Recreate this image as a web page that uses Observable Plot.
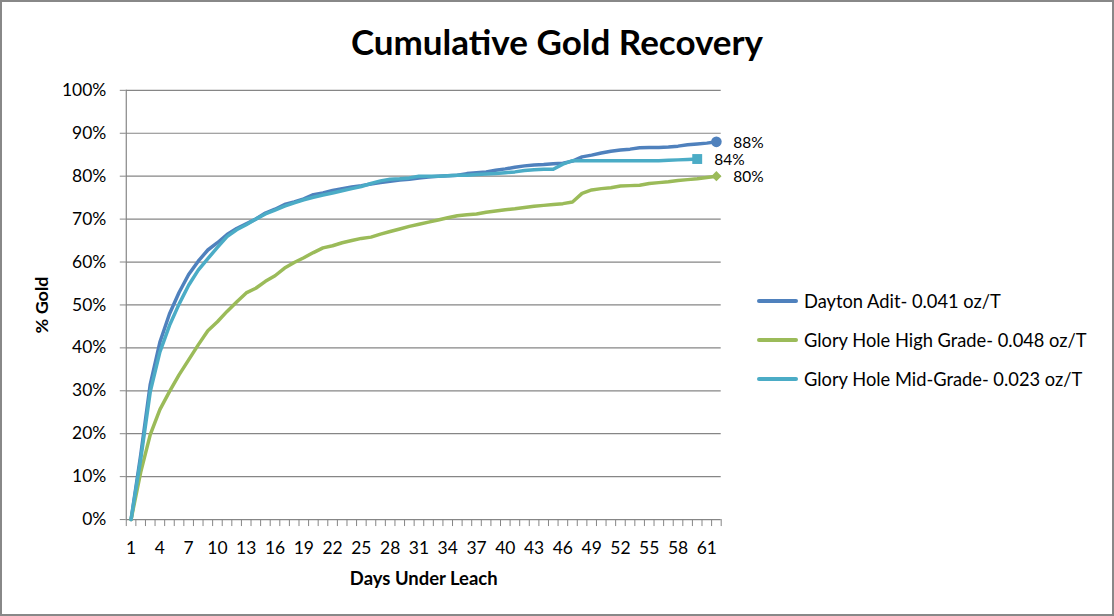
<!DOCTYPE html>
<html>
<head>
<meta charset="utf-8">
<script src="https://cdn.jsdelivr.net/npm/d3@7"></script>
<script src="https://cdn.jsdelivr.net/npm/@observablehq/plot@0.6"></script>
<style>
  html, body { margin: 0; padding: 0; background: #fff; }
  #chart {
    position: relative; width: 1114px; height: 616px; box-sizing: border-box;
    border: 2px solid #888; overflow: hidden; font-family: Lato, "Open Sans", sans-serif;
  }
  #title {
    position: absolute; left: 0; width: 1110px; top: 18px; text-align: center;
    font-size: 35px; font-weight: bold; color: #000;
  }
  #plot { position: absolute; left: -2px; top: -2px; }
  #legend { position: absolute; left: 755px; top: 279px; font-size: 18.3px; color: #000; }
  .item { display: flex; align-items: center; height: 39px; }
  .sw { width: 41px; height: 4px; margin-right: 6px; border-radius: 2px; }
</style>
</head>
<body>
<div id="chart">
  <div id="plot"></div>
  <div id="title">Cumulative Gold Recovery</div>
  <div id="legend"></div>
</div>
<script>
// ---- data (percent gold recovered, by day under leach) ----
const seriesNames = [
  "Dayton Adit- 0.041 oz/T",
  "Glory Hole High Grade- 0.048 oz/T",
  "Glory Hole Mid-Grade- 0.023 oz/T"
];
const seriesColors = ["#4F81BD", "#9BBB59", "#4BACC6"];
const seriesSymbols = ["circle", "diamond2", "square"];

const daytonAdit = [
  0, 15, 31.5, 41.3, 47.9, 52.9, 57.1, 60.2, 62.8, 64.5,
  66.4, 67.8, 68.9, 70.0, 71.4, 72.3, 73.4, 74.0, 74.7, 75.7,
  76.1, 76.7, 77.1, 77.5, 77.8, 78.2, 78.5, 78.8, 79.1, 79.3,
  79.6, 79.8, 80.0, 80.1, 80.2, 80.6, 80.8, 81.0, 81.4, 81.7,
  82.1, 82.4, 82.6, 82.7, 82.9, 83.0, 83.5, 84.5, 84.9, 85.4,
  85.8, 86.1, 86.3, 86.6, 86.7, 86.7, 86.8, 87.0, 87.3, 87.5,
  87.7, 88.0
];
const highGrade = [
  0, 11, 19.8, 25.6, 29.8, 33.7, 37.2, 40.7, 44.0, 46.1,
  48.5, 50.7, 52.8, 53.9, 55.5, 56.8, 58.6, 59.9, 61.0, 62.2,
  63.3, 63.8, 64.5, 65.0, 65.5, 65.8, 66.5, 67.1, 67.7, 68.3,
  68.8, 69.3, 69.8, 70.3, 70.8, 71.0, 71.2, 71.6, 71.9, 72.2,
  72.4, 72.7, 73.0, 73.2, 73.4, 73.6, 74.0, 76.0, 76.8, 77.1,
  77.3, 77.7, 77.8, 77.9, 78.3, 78.5, 78.7, 79.0, 79.2, 79.4,
  79.7, 80.0
];
const midGrade = [
  0, 14, 29.8, 39.0, 45.2, 50.2, 54.6, 58.1, 60.8, 63.4,
  65.9, 67.5, 68.7, 70.0, 71.2, 72.1, 73.0, 73.8, 74.5, 75.1,
  75.6, 76.1, 76.6, 77.1, 77.6, 78.3, 78.9, 79.3, 79.4, 79.6,
  80.0, 80.0, 80.0, 80.1, 80.2, 80.2, 80.4, 80.5, 80.6, 80.8,
  81.0, 81.3, 81.5, 81.6, 81.6, 82.8, 83.6, 83.6, 83.6, 83.6,
  83.6, 83.6, 83.6, 83.6, 83.6, 83.6, 83.7, 83.8, 83.9, 84.0
];
const xTickLabels = [1, 4, 7, 10, 13, 16, 19, 22, 25, 28, 31, 34, 37, 40, 43, 46, 49, 52, 55, 58, 61];
const yTicks = [0, 0.1, 0.2, 0.3, 0.4, 0.5, 0.6, 0.7, 0.8, 0.9, 1.0];
const xLabel = "Days Under Leach";
const yLabel = "% Gold";

// ---- build table ----
const allSeries = [daytonAdit, highGrade, midGrade];
const rows = [];
allSeries.forEach((vals, i) => vals.forEach((v, j) => rows.push({series: seriesNames[i], day: j + 1, value: v / 100})));
const lastPoints = allSeries.map((vals, i) => ({
  series: seriesNames[i], day: vals.length, value: vals[vals.length - 1] / 100,
  symbol: seriesSymbols[i], color: seriesColors[i]
}));
const nDays = d3.max(allSeries, s => s.length);
const boundaries = d3.range(0.5, nDays + 1, 1);

const grid = "#868686";
const chart = Plot.plot({
  width: 1114, height: 616,
  marginLeft: 126, marginRight: 392, marginTop: 90, marginBottom: 96,
  style: {fontFamily: "Lato, 'Open Sans', sans-serif", background: "transparent", color: "#000"},
  x: {domain: [0.5, nDays + 0.5]},
  y: {domain: [0, 1]},
  color: {domain: seriesNames, range: seriesColors},
  symbol: {domain: ["circle", "diamond2", "square"], range: ["circle", "diamond2", "square"]},
  marks: [
    Plot.ruleY(yTicks, {stroke: grid, strokeWidth: 1.2}),
    Plot.ruleX([0.5], {stroke: grid, strokeWidth: 1.2}),
    Plot.axisY(yTicks, {tickSize: 6, tickPadding: 14, stroke: grid, tickFormat: d => Math.round(d * 100) + "%", fontSize: 17.5, label: null}),
    Plot.axisX(boundaries, {tickSize: 7, stroke: grid, tickFormat: () => "", label: null}),
    Plot.axisX(xTickLabels, {tickSize: 0, tickPadding: 22, fontSize: 17.5, label: null}),
    Plot.line(rows, {x: "day", y: "value", z: "series", stroke: "series", strokeWidth: 3.5, strokeLinejoin: "round", strokeLinecap: "round"}),
    Plot.dot(lastPoints.filter(d => d.symbol === "circle"), {x: "day", y: "value", symbol: "symbol", fill: "series", r: 5.3, stroke: null}),
    Plot.dot(lastPoints.filter(d => d.symbol === "square"), {x: "day", y: "value", symbol: "symbol", fill: "series", r: 5.6, stroke: null}),
    Plot.dot(lastPoints.filter(d => d.symbol === "diamond2"), {x: "day", y: "value", symbol: "symbol", fill: "series", r: 4.6, stroke: null}),
    Plot.text(lastPoints, {x: "day", y: "value", text: d => Math.round(d.value * 100) + "%", dx: 17, dy: 1, textAnchor: "start", fontSize: 15.5}),
    Plot.text([xLabel], {frameAnchor: "bottom", textAnchor: "middle", dy: 66, text: d => d, fontWeight: "bold", fontSize: 18.5}),
    Plot.text([yLabel], {frameAnchor: "left", textAnchor: "middle", lineAnchor: "middle", dx: -84, rotate: -90, text: d => d, fontWeight: "bold", fontSize: 18})
  ]
});
document.getElementById("plot").appendChild(chart);

const legend = document.getElementById("legend");
seriesNames.forEach((name, i) => {
  const item = document.createElement("div");
  item.className = "item";
  item.innerHTML = `<div class="sw" style="background:${seriesColors[i]}"></div><span>${name}</span>`;
  legend.appendChild(item);
});
</script>
</body>
</html>
